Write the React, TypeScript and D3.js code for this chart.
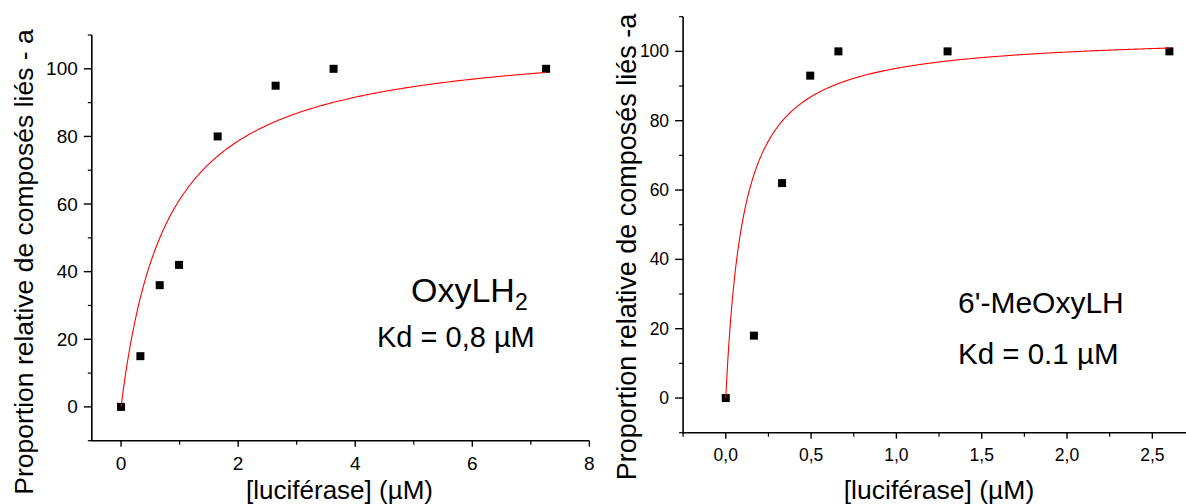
import React from "react";
import * as d3 from "d3";

// ---------- Data ----------
const leftX = [0, 0.33, 0.66, 0.99, 1.65, 2.64, 3.63, 7.26];
const leftY = [0, 15, 36, 42, 80, 95, 100, 100];
const leftKd = 0.79;
const leftBmax = 109.7;
const leftXTicks = [0, 2, 4, 6, 8];
const leftXMinor = [1, 3, 5, 7];

const rightX = [0, 0.165, 0.33, 0.495, 0.66, 1.3, 2.6];
const rightY = [0, 18, 62, 93, 100, 100, 100];
const rightKd = 0.104;
const rightBmax = 105;
const rightXTicks = [0, 0.5, 1.0, 1.5, 2.0, 2.5];
const rightXMinor = [-0.25, 0.25, 0.75, 1.25, 1.75, 2.25, 2.75];

const yTicks = [0, 20, 40, 60, 80, 100];
const yMinor = [-10, 10, 30, 50, 70, 90, 110];

const FONT = "'Liberation Sans', Arial, Helvetica, sans-serif";

type PanelProps = {
  xs: number[];
  ys: number[];
  kd: number;
  bmax: number;
  xDomain: [number, number];
  xRange: [number, number];
  yRange: [number, number];
  xTicks: number[];
  xMinor: number[];
  fmt: (v: number) => string;
  tickFont: number;
  yTitle: string;
  yTitleX: number;
  yTitleY: number;
  yTitleSize: number;
  xTitleX: number;
  xTitleSize: number;
  tickLabelOffsetX: number;
  xLabelBaseline: number;
};

function Panel(p: PanelProps) {
  const x = d3.scaleLinear().domain(p.xDomain).range(p.xRange);
  const y = d3.scaleLinear().domain([-10, 110]).range(p.yRange);
  const x0 = p.xRange[0];
  const yBottom = p.yRange[0];
  const yTop = p.yRange[1];
  const xEnd = p.xRange[1];
  const xmax = d3.max(p.xs) as number;
  const fitPts = d3.range(0, 401).map((i) => {
    const xv = (xmax * i) / 400;
    return [xv, (p.bmax * xv) / (p.kd + xv)] as [number, number];
  });
  const line = d3
    .line<[number, number]>()
    .x((d) => x(d[0]))
    .y((d) => y(d[1]));
  const sq = 8;
  return (
    <g fontFamily={FONT} fill="#000">
      {/* axes */}
      <line x1={x0} x2={x0} y1={yTop} y2={yBottom} stroke="#000" strokeWidth={1.6} />
      <line x1={x0 - 1} x2={xEnd} y1={yBottom} y2={yBottom} stroke="#000" strokeWidth={1.6} />
      {/* y ticks */}
      {yTicks.map((t) => (
        <g key={"y" + t}>
          <line x1={x0 - 8} x2={x0} y1={y(t)} y2={y(t)} stroke="#000" strokeWidth={1.4} />
          <text
            x={x0 - 14}
            y={y(t)}
            textAnchor="end"
            dominantBaseline="central"
            fontSize={p.tickFont}
          >
            {t}
          </text>
        </g>
      ))}
      {yMinor.map((t) => (
        <line key={"ym" + t} x1={x0 - 4} x2={x0} y1={y(t)} y2={y(t)} stroke="#000" strokeWidth={1.2} />
      ))}
      {/* x ticks */}
      {p.xTicks.map((t) => (
        <g key={"x" + t}>
          <line x1={x(t)} x2={x(t)} y1={yBottom} y2={yBottom + 6} stroke="#000" strokeWidth={1.4} />
          <text x={x(t)} y={p.xLabelBaseline} textAnchor="middle" fontSize={p.tickFont}>
            {p.fmt(t)}
          </text>
        </g>
      ))}
      {p.xMinor.map((t) => (
        <line key={"xm" + t} x1={x(t)} x2={x(t)} y1={yBottom} y2={yBottom + 4} stroke="#000" strokeWidth={1.2} />
      ))}
      {/* titles */}
      <text
        transform={`translate(${p.yTitleX},${p.yTitleY}) rotate(-90)`}
        textAnchor="middle"
        fontSize={p.yTitleSize}
      >
        {p.yTitle}
      </text>
      <text x={p.xTitleX} y={499} textAnchor="middle" fontSize={p.xTitleSize}>
        [luciférase] (µM)
      </text>
      {/* points */}
      {p.xs.map((xv, i) => (
        <rect
          key={"p" + i}
          x={x(xv) - sq / 2}
          y={y(p.ys[i]) - sq / 2}
          width={sq}
          height={sq}
          fill="#000"
        />
      ))}
      {/* fit */}
      <path d={line(fitPts) || ""} fill="none" stroke="#ff0000" strokeWidth={1.1} />
    </g>
  );
}

export default function App() {
  const fmtInt = (v: number) => d3.format("d")(v);
  const fmtComma = (v: number) => d3.format(".1f")(v).replace(".", ",");
  return (
    <svg
      width={1186}
      height={504}
      style={{ position: "absolute", left: 0, top: 0, background: "#fff" }}
    >
      <rect width={1186} height={504} fill="#fff" />
      <Panel
        xs={leftX}
        ys={leftY}
        kd={leftKd}
        bmax={leftBmax}
        xDomain={[-0.5, 8]}
        xRange={[91.8, 589.4]}
        yRange={[440.7, 35]}
        xTicks={leftXTicks}
        xMinor={leftXMinor}
        fmt={fmtInt}
        tickFont={19}
        yTitle="Proportion relative de composés liés - a"
        yTitleX={33}
        yTitleY={262}
        yTitleSize={26.5}
        xTitleX={339.5}
        xTitleSize={26}
        tickLabelOffsetX={0}
        xLabelBaseline={470}
      />
      <Panel
        xs={rightX}
        ys={rightY}
        kd={rightKd}
        bmax={rightBmax}
        xDomain={[-0.25, 2.75]}
        xRange={[683.1, 1195]}
        yRange={[432.7, 16.7]}
        xTicks={rightXTicks}
        xMinor={rightXMinor}
        fmt={fmtComma}
        tickFont={17.5}
        yTitle="Proportion relative de composés liés -a"
        yTitleX={636}
        yTitleY={247}
        yTitleSize={27}
        xTitleX={939}
        xTitleSize={26.5}
        tickLabelOffsetX={0}
        xLabelBaseline={461}
      />
      {/* annotations */}
      <g fontFamily={FONT} fill="#000">
        <text x={411} y={302} fontSize={34}>
          OxyLH
          <tspan fontSize={23} dy={8}>2</tspan>
        </text>
        <text x={377} y={347} fontSize={29}>
          Kd = 0,8 µM
        </text>
        <text x={958} y={313} fontSize={30}>
          6'-MeOxyLH
        </text>
        <text x={958} y={364} fontSize={29.5}>
          Kd = 0.1 µM
        </text>
      </g>
    </svg>
  );
}
